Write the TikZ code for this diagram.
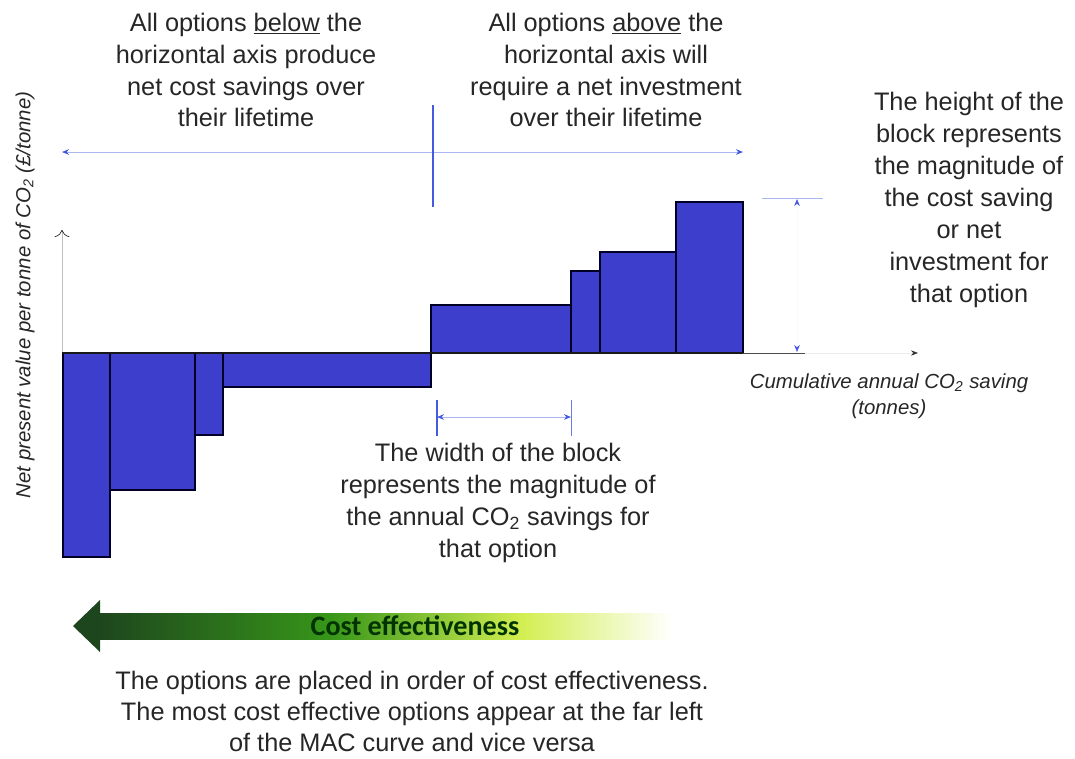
\documentclass[tikz,border=0pt]{standalone}
\usepackage{fontspec}
\setmainfont{Liberation Sans}
\newfontfamily\calibfont{Carlito}
\usetikzlibrary{arrows.meta}

\definecolor{blockblue}{RGB}{62,62,205}
\definecolor{dimblue}{RGB}{70,90,225}
\definecolor{darkgreen}{RGB}{30,70,30}
\definecolor{midgreen}{RGB}{55,150,25}
\definecolor{lightgreen}{RGB}{210,238,80}

\tikzset{
	note/.style={align=center, inner sep=0pt, text=black!85, font=\fontsize{18}{22.7}\selectfont},
	axislabel/.style={align=center, inner sep=0pt, text=black!85, font=\fontsize{14.5}{18.4}\selectfont\itshape},
	block/.style={fill=blockblue, draw=black!85!blue, line width=1pt},
	dimline/.style={draw=dimblue!45, line width=0.6pt},
	dimtip/.style={{Stealth[dimblue, length=5pt, width=4pt]}-{Stealth[dimblue, length=5pt, width=4pt]}},
}

\begin{document}
\begin{tikzpicture}[x=0.025cm, y=-0.025cm]
	\useasboundingbox (0,0) rectangle (1075,758);
	
	% texts
	\node[note] (below) at (246,70) {All options \underline{below} the\\horizontal axis produce\\net cost savings over\\their lifetime};
	\node[note] (above) at (606,70) {All options \underline{above} the\\horizontal axis will\\require a net investment\\over their lifetime};
	\node[note] (height) at (969,200) {The height of the\\block represents\\the magnitude of\\the cost saving\\or net\\investment for\\that option};
	\node[note] (width) at (498,503) {The width of the block\\represents the magnitude of\\the annual CO\textsubscript{2} savings for\\that option};
	\node[note, font=\fontsize{18}{22}\selectfont] (order) at (412,711) {The options are placed in order of cost effectiveness.\\The most cost effective options appear at the far left\\of the MAC curve and vice versa};
	\node[axislabel] (xlabel) at (889,396) {Cumulative annual CO\textsubscript{2} saving\\(tonnes)};
	\node[axislabel, rotate=90] (ylabel) at (25,295) {Net present value per tonne of CO\textsubscript{2} (£/tonne)};
	
	% above / below arrows
	\coordinate (left) at (62,152);
	\coordinate (right) at (743,152);
	\draw[dimline, dimtip] (left) -- (right);
	\draw[dimblue, line width=1.5pt] (433,105) -- (433,207);
	
	% axes
	\coordinate (origin) at (62,353);
	\coordinate (yend) at (62,230);
	\coordinate (xend) at (805,353);
	\coordinate (xtip) at (918,353);
	\draw[black!25, -{To[black, length=5pt]}] (origin) -- (yend);
	\draw[black!8, -{Stealth[black!80, length=5pt]}] (xend) -- (xtip);
	
	% blocks
	\foreach \xa/\xb/\yb in {63/110/557, 110/195/490, 195/223/435, 223/431/387, 431/571/305, 571/600/271, 600/676/252, 676/743/202} {
		\draw[block] (\xa,353) rectangle (\xb,\yb);
	}
	\draw[black!90, line width=1.2pt] (origin) -- (743,353);
	\draw[black!70, line width=0.5pt] (743,353) -- (xend);
	
	% height of block
	\coordinate (htop) at (797,199);
	\coordinate (hbot) at (797,352);
	\draw[dimline] (762,198) -- (823,198);
	\draw[dimblue!3, dimtip] (htop) -- (hbot);
	
	% width of block
	\coordinate (wleft) at (437,417);
	\coordinate (wright) at (571,417);
	\draw[dimblue, line width=1.5pt] (437,400) -- (437,436);
	\draw[dimblue!80, line width=0.7pt] (571,400) -- (571,436);
	\draw[dimline, dimtip] (wleft) -- (wright);
	
	% cost effectiveness arrow
	\shade[left color=darkgreen, right color=midgreen] (99,613) rectangle (331,639);
	\shade[left color=midgreen, right color=lightgreen] (330,613) rectangle (521,639);
	\shade[left color=lightgreen, right color=white] (520,613) rectangle (672,639);
	\fill[darkgreen] (73,626) -- (100,600) -- (100,652) -- cycle;
	\node[inner sep=0pt, text=black!80!green, font=\calibfont\bfseries\fontsize{20}{22}\selectfont] (cost) at (415,626) {Cost effectiveness};
\end{tikzpicture}
\end{document}
